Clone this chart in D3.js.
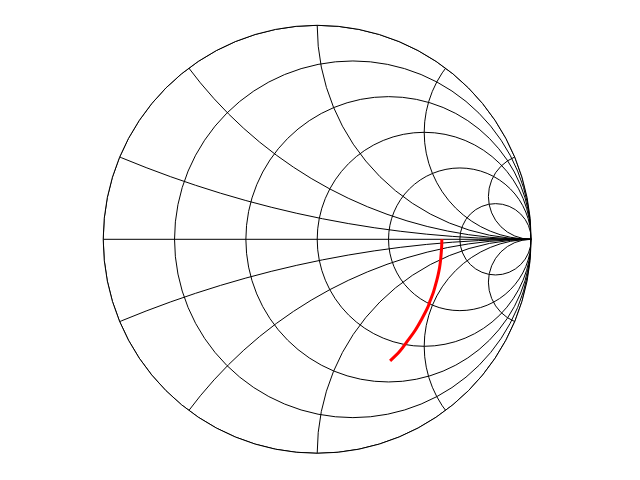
<!DOCTYPE html>
<html>
<head>
<meta charset="utf-8">
<script src="https://cdn.jsdelivr.net/npm/d3@7"></script>
<style>
  html, body { margin: 0; padding: 0; background: #fff; }
  svg { display: block; }
</style>
</head>
<body>
<svg id="smith" width="640" height="480"></svg>
<script>
// ===========
// DATA
// ===========

// constant resistance circles (normalised)
const resistanceCircles = [0, 0.2, 0.5, 1, 2, 5];
// constant reactance arcs (normalised)
const reactanceArcs = [0.2, 0.5, 1, 2, 5, -0.2, -0.5, -1, -2, -5];

// the red trace, normalised impedance
const traceR = [3.79, 3.75, 3.64, 3.48, 3.27, 3.03, 2.79, 2.54, 2.31, 2.09, 1.90, 1.55, 1.28, 1.07, 0.89, 0.74];
const traceX = [0, -0.38, -0.73, -1.04, -1.31, -1.52, -1.67, -1.78, -1.85, -1.88, -1.90, -1.86, -1.79, -1.70, -1.61, -1.50];

// ===========
// SETUP
// ===========

const cx = 317.2, cy = 239.3, rad = 214;

const svg = d3.select("#smith");

// reflection coefficient plane -> pixels
const x = d3.scaleLinear().domain([-1, 1]).range([cx - rad, cx + rad]);
const y = d3.scaleLinear().domain([-1, 1]).range([cy + rad, cy - rad]);

// z -> gamma
function gamma(r, xx) {
	const nr = r - 1, ni = xx, dr = r + 1, di = xx;
	const d = dr * dr + di * di;
	return [(nr * dr + ni * di) / d, (ni * dr - nr * di) / d];
}

svg.append("clipPath")
	.attr("id", "unit")
	.append("circle")
		.attr("cx", x(0))
		.attr("cy", y(0))
		.attr("r", x(1) - x(0));

const grid = svg.append("g")
	.attr("clip-path", "url(#unit)")
	.attr("fill", "none")
	.attr("stroke", "#000")
	.attr("stroke-width", 1);

// ============
// GRID
// ============

grid.selectAll("circle.res")
	.data(resistanceCircles)
	.enter()
	.append("circle")
		.attr("class", "res")
		.attr("cx", d => x(d / (1 + d)))
		.attr("cy", y(0))
		.attr("r", d => x(1 / (1 + d)) - x(0));

grid.selectAll("circle.reac")
	.data(reactanceArcs)
	.enter()
	.append("circle")
		.attr("class", "reac")
		.attr("cx", x(1))
		.attr("cy", d => y(1 / d))
		.attr("r", d => Math.abs(x(1 / d) - x(0)));

grid.append("line")
	.attr("x1", x(-1))
	.attr("x2", x(1))
	.attr("y1", y(0))
	.attr("y2", y(0));

// outer circle again, unclipped so it keeps full width
svg.append("circle")
	.attr("cx", x(0))
	.attr("cy", y(0))
	.attr("r", x(1) - x(0))
	.attr("fill", "none")
	.attr("stroke", "#000")
	.attr("stroke-width", 1);

// ============
// TRACE
// ============

const pts = traceR.map((r, i) => gamma(r, traceX[i]));

svg.append("path")
	.datum(pts)
	.attr("fill", "none")
	.attr("stroke", "#ff0000")
	.attr("stroke-width", 3)
	.attr("d", d3.line()
		.x(d => x(d[0]))
		.y(d => y(d[1]))
		.curve(d3.curveCatmullRom));
</script>
</body>
</html>
